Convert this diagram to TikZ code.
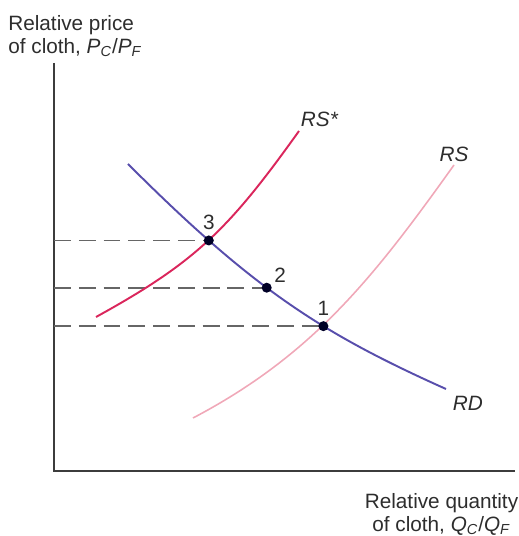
\documentclass[tikz,border=0pt]{standalone}
\usepackage{fontspec}
\setmainfont{Liberation Sans}
\usetikzlibrary{positioning}
\definecolor{rdblue}{RGB}{88,78,172}
\definecolor{rsred}{RGB}{218,38,92}
\definecolor{rspink}{RGB}{240,168,184}
\definecolor{axisgray}{RGB}{60,60,60}
\definecolor{inkgray}{RGB}{45,45,45}
\begin{document}
\begin{tikzpicture}[every node/.style={font=\fontsize{11.8}{13.1}\selectfont, inner sep=0pt, text=inkgray},
  axisline/.style={line width=1.4pt, axisgray},
  guide/.style={line width=1pt, gray!80!black, dash pattern=on 9.6pt off 4.5pt},
  eqdot/.style={circle, fill=black!85!blue, minimum size=0.2cm},
  curvelab/.style={font=\fontsize{11.8}{13.1}\selectfont\itshape}]
  \useasboundingbox (0,0) rectangle (10.36,10.72);
  % Akser
  \coordinate (o) at (1.08,1.30);
  \coordinate (ytop) at (1.08,9.46);
  \coordinate (xend) at (10.30,1.30);
  \draw[axisline] (ytop) -- (o) -- (xend);
  \node[anchor=north west, align=left] (ylab) at (0.16,10.42)
    {Relative price\\of cloth, \textit{P}\textsubscript{\textit{C}}/\textit{P}\textsubscript{\textit{F}}};
  \node[anchor=north, align=center] (xlab) at (8.83,0.86)
    {Relative quantity\\of cloth, \textit{Q}\textsubscript{\textit{C}}/\textit{Q}\textsubscript{\textit{F}}};
  % RD, med likevektspunktene 3, 2 og 1
  \draw[rdblue, line width=1.1pt] (2.56,7.44) .. controls (5.06,4.94) and (6.42,4.06) .. (8.92,2.94)
    coordinate[pos=0.237] (e3) coordinate[pos=0.43] (e2) coordinate[pos=0.625] (e1)
    node[curvelab, anchor=north west, xshift=0.12cm, yshift=-0.12cm] (rdlab) {RD};
  % Stiplede linjer til aksen
  \foreach \e in {e1,e2,e3}
    \draw[guide] (o |- \e) -- (\e);
  % RS
  \draw[rspink, line width=0.9pt] (3.86,2.36) .. controls (6.26,3.62) and (7.48,5.18) .. (9.08,7.42)
    node[curvelab, above=0.04cm] (rslab) {RS};
  % RS*
  \draw[rsred, line width=1.1pt] (1.92,4.38) .. controls (3.92,5.48) and (4.58,6.14) .. (5.98,8.10)
    node[curvelab, anchor=south west, xshift=0.02cm, yshift=0.06cm] (rsslab) {RS*};
  % Punkter
  \node[eqdot] (p1) at (e1) {};
  \node[eqdot] (p2) at (e2) {};
  \node[eqdot] (p3) at (e3) {};
  \node[above=0.1cm of p1] (l1) {1};
  \node[above right=0.03cm and 0.07cm of p2] (l2) {2};
  \node[above=0.1cm of p3] (l3) {3};
\end{tikzpicture}
\end{document}
